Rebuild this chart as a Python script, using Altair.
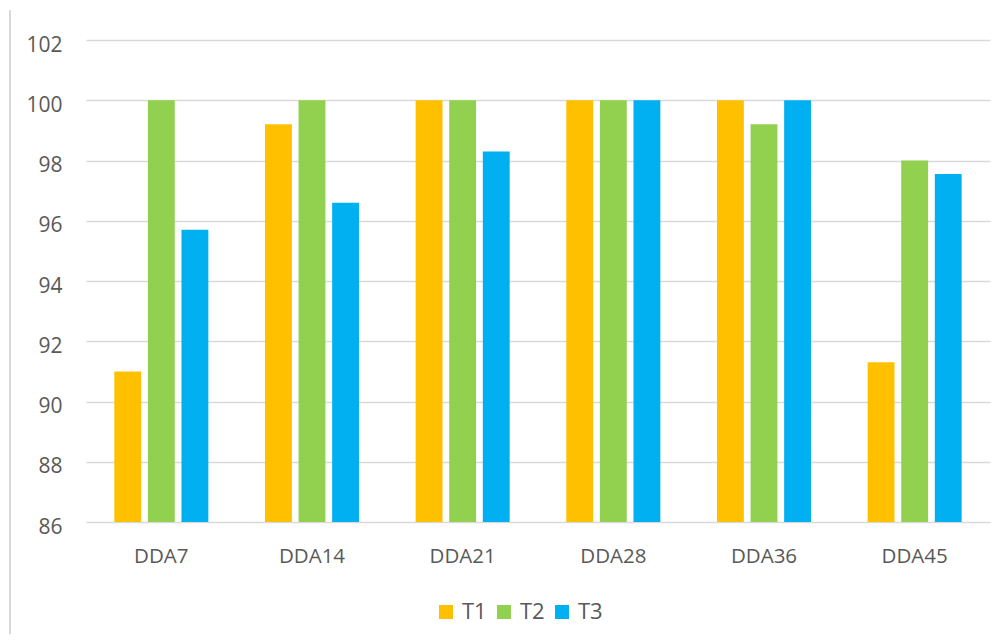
import altair as alt
import pandas as pd

categories = ["DDA7", "DDA14", "DDA21", "DDA28", "DDA36", "DDA45"]
series = ["T1", "T2", "T3"]
t1 = [91.0, 99.2, 100.0, 100.0, 100.0, 91.3]
t2 = [100.0, 100.0, 100.0, 100.0, 99.2, 98.0]
t3 = [95.7, 96.6, 98.3, 100.0, 100.0, 97.55]
y_ticks = [86, 88, 90, 92, 94, 96, 98, 100, 102]
colors = ["#FFC000", "#92D050", "#00B0F0"]

rows = []
for i, c in enumerate(categories):
    for s, vals in zip(series, [t1, t2, t3]):
        rows.append({"cat": c, "series": s, "value": vals[i]})
df = pd.DataFrame(rows)

font = "Open Sans"
gray = "#595959"

bars = alt.Chart(df).mark_bar(clip=True).encode(
    x=alt.X("cat:N", sort=categories, title=None,
            scale=alt.Scale(paddingInner=0.376, paddingOuter=0.188),
            axis=alt.Axis(labelAngle=0, labelFontSize=20.5, labelColor=gray, labelFont=font,
                          labelPadding=24, ticks=False, domain=False, grid=False)),
    xOffset=alt.XOffset("series:N", sort=series,
                        scale=alt.Scale(paddingInner=0.2, paddingOuter=0)),
    y=alt.Y("value:Q", title=None,
            scale=alt.Scale(domain=[86, 102], nice=False, zero=False),
            axis=alt.Axis(values=y_ticks, labelFontSize=21, labelColor=gray, labelFont=font,
                          labelPadding=24, labelOffset=5, ticks=False, domain=False,
                          grid=True, gridColor="#D9D9D9", gridWidth=1.5)),
    y2=alt.datum(86),
    color=alt.Color("series:N", sort=series, title=None,
                    scale=alt.Scale(domain=series, range=colors),
                    legend=alt.Legend(orient="none", legendX=349, legendY=561,
                                      direction="horizontal", symbolType="square",
                                      symbolSize=196, symbolStrokeWidth=0,
                                      labelFontSize=22, labelColor=gray, labelFont=font,
                                      labelOffset=5, columnPadding=6)),
)

border = alt.Chart(pd.DataFrame({"a": [0]})).mark_rule(color="#D9D9D9", strokeWidth=2).encode(
    x=alt.value(-76), y=alt.value(-30), y2=alt.value(600)
)

chart = alt.layer(border, bars).properties(
    width=904, height=482,
    background="white",
    autosize=alt.AutoSizeParams(type="none"),
    padding={"left": 78, "top": 32, "right": 10, "bottom": 112},
).configure_view(strokeWidth=0, stroke="transparent")

chart.save("out.html", embed_options={"renderer": "svg", "actions": False})
